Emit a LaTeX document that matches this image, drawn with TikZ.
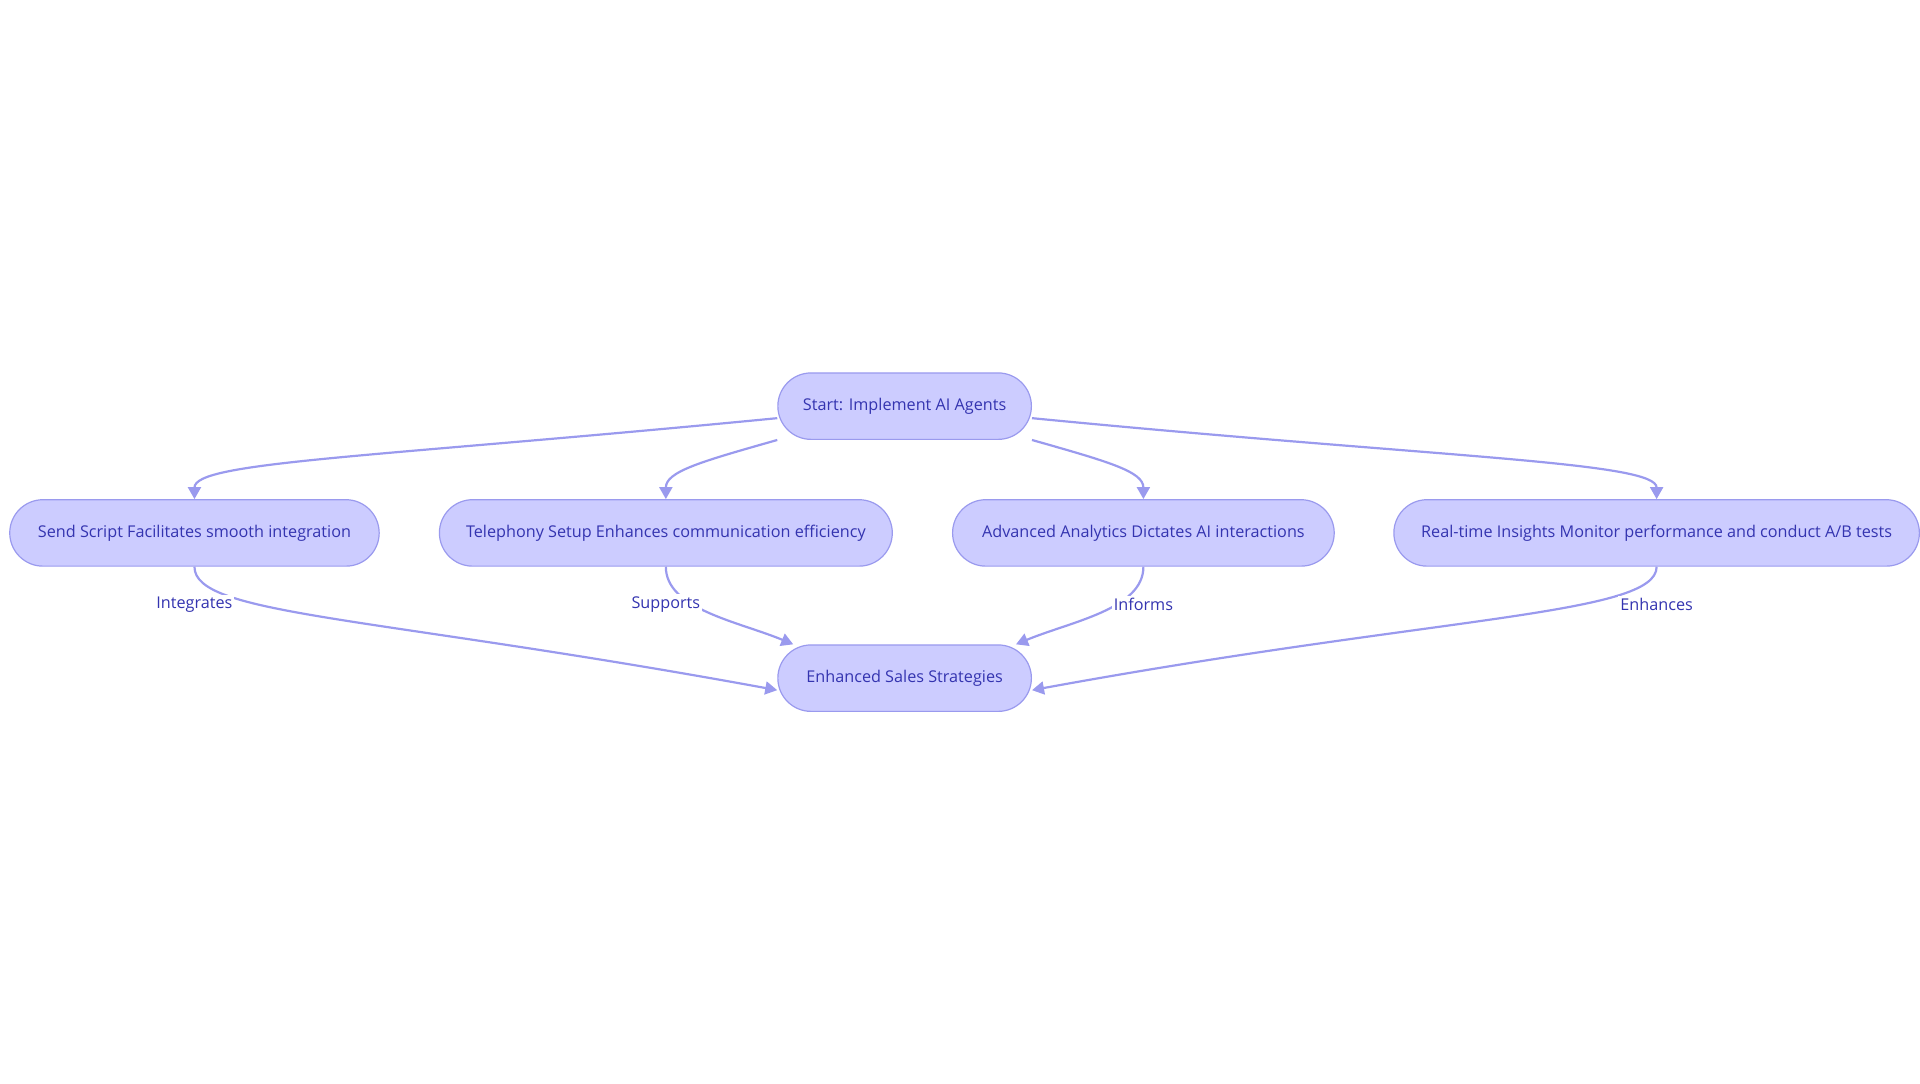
\documentclass[tikz,border=0pt]{standalone}
\usepackage{fontspec}
\setmainfont{Open Sans}
\usetikzlibrary{arrows.meta}
\definecolor{nfill}{HTML}{CCCCFF}
\definecolor{nline}{HTML}{9A9AEE}
\definecolor{ntext}{HTML}{3434B0}
\tikzset{
  box/.style={draw=nline, fill=nfill, rounded corners=16.6pt, minimum height=33.2pt, text=ntext, font=\fontsize{8.1}{10}\selectfont, inner sep=0pt, line width=0.6pt},
  link/.style={draw=nline, line width=1.1pt, -{Triangle[length=6pt,width=6.5pt]}},
  lbl/.style={fill=white, text=ntext, font=\fontsize{8.1}{10}\selectfont, inner sep=1pt}
}
\begin{document}
\begin{tikzpicture}[x={(0.615pt,0)}, y={(0,-0.615pt)}]
\useasboundingbox (0,0) rectangle (1560,880);
\node[box, minimum width=126.7pt] (start) at (735,330) {Start: Implement AI Agents};
\node[box, minimum width=184.6pt] (send) at (158,433) {Send Script Facilitates smooth integration};
\node[box, minimum width=226.3pt] (tel) at (541,433) {Telephony Setup Enhances communication efficiency};
\node[box, minimum width=190.7pt] (adv) at (929,433) {Advanced Analytics Dictates AI interactions};
\node[box, minimum width=262.6pt] (rt) at (1346,433) {Real-time Insights Monitor performance and conduct A/B tests};
\node[box, minimum width=126.7pt] (enh) at (735,551) {Enhanced Sales Strategies};

\draw[link] ([yshift=-6pt]start.west) .. controls (300,372) and (158,375) .. (send.north);
\draw[link] (start.south west) .. controls (570,375) and (541,383) .. (tel.north);
\draw[link] (start.south east) .. controls (900,375) and (929,383) .. (adv.north);
\draw[link] ([yshift=-6pt]start.east) .. controls (1170,372) and (1346,375) .. (rt.north);

\draw[link] (send.south) .. controls (158,500) and (300,500) .. ([yshift=-6pt]enh.west);
\draw[link] (tel.south) .. controls (541,495) and (600,505) .. ([xshift=8pt]enh.north west);
\draw[link] (adv.south) .. controls (929,495) and (870,505) .. ([xshift=-8pt]enh.north east);
\draw[link] (rt.south) .. controls (1346,500) and (1170,500) .. ([yshift=-6pt]enh.east);

\node[lbl] (l1) at (158,491) {Integrates};
\node[lbl] (l2) at (541,491) {Supports};
\node[lbl] (l3) at (929,491) {Informs};
\node[lbl] (l4) at (1346,491) {Enhances};
\end{tikzpicture}
\end{document}
